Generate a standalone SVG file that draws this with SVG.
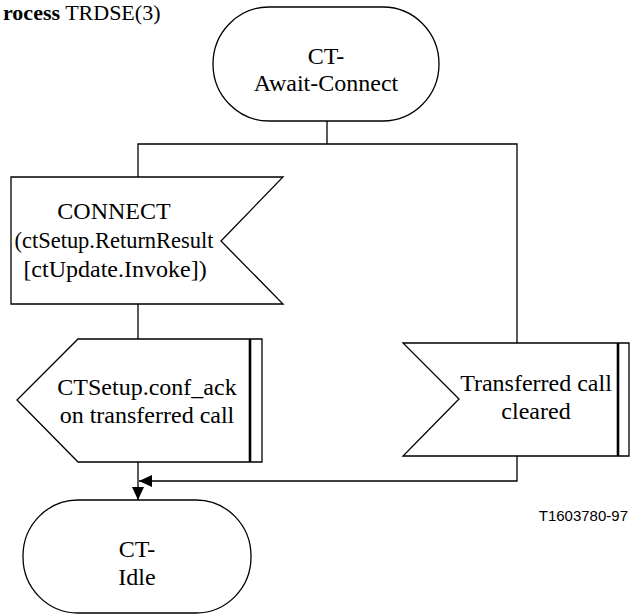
<svg xmlns="http://www.w3.org/2000/svg" width="632" height="615" viewBox="0 0 632 615">
<defs>
<style>
.s{fill:#fff;stroke:#000;stroke-width:1.3}
.l{fill:none;stroke:#000;stroke-width:1.3}
.b{fill:none;stroke:#000;stroke-width:2.6}
.t{font-family:"Liberation Serif","Times New Roman",serif;font-size:24px;fill:#000;text-anchor:middle}
.h{font-family:"Liberation Serif","Times New Roman",serif;font-size:22px;fill:#000}
.r{font-family:"Liberation Sans",Arial,sans-serif;font-size:15px;fill:#000;text-anchor:end}
</style>
<marker id="ah" markerUnits="userSpaceOnUse" markerWidth="13" markerHeight="12" refX="13" refY="6" orient="auto">
<path d="M0,0 L13,6 L0,12 Z" fill="#000"/>
</marker>
</defs>
<rect width="632" height="615" fill="#fff"/>
<text class="h" x="3" y="20"><tspan font-weight="bold">rocess</tspan> TRDSE(3)</text>
<g id="connectors">
<line class="l" x1="327" y1="121" x2="327" y2="144"/>
<polyline class="l" points="138,177 138,144 517,144 517,343"/>
<line class="l" x1="138" y1="304" x2="138" y2="339"/>
<line class="l" x1="138" y1="462" x2="138" y2="500" marker-end="url(#ah)"/>
<polyline class="l" points="517,456 517,481 139,481" marker-end="url(#ah)"/>
</g>
<g id="state-await">
<rect class="s" x="213" y="7" width="226" height="114" rx="56" ry="57"/>
<text class="t" x="326" y="64">CT-</text>
<text class="t" x="326" y="91">Await-Connect</text>
</g>
<g id="input-connect">
<polygon class="s" points="11,177 283,177 221,241 283,304 11,304"/>
<text class="t" x="114" y="219">CONNECT</text>
<text class="t" x="114" y="248" textLength="199" lengthAdjust="spacingAndGlyphs">(ctSetup.ReturnResult</text>
<text class="t" x="115" y="277">[ctUpdate.Invoke])</text>
</g>
<g id="output-conf">
<polygon class="s" points="78,339 262,339 262,462 78,462 17,400"/>
<line class="b" x1="250" y1="339" x2="250" y2="462"/>
<text class="t" x="147" y="395">CTSetup.conf_ack</text>
<text class="t" x="147" y="423">on transferred call</text>
</g>
<g id="input-cleared">
<polygon class="s" points="403,343 629,343 629,456 403,456 459,399"/>
<line class="b" x1="618" y1="343" x2="618" y2="456"/>
<text class="t" x="536" y="391">Transferred call</text>
<text class="t" x="536" y="419">cleared</text>
</g>
<g id="state-idle">
<rect class="s" x="23" y="500" width="228" height="113" rx="55" ry="56"/>
<text class="t" x="137" y="557">CT-</text>
<text class="t" x="137" y="585">Idle</text>
</g>
<text class="r" x="628" y="521">T1603780-97</text>
</svg>
